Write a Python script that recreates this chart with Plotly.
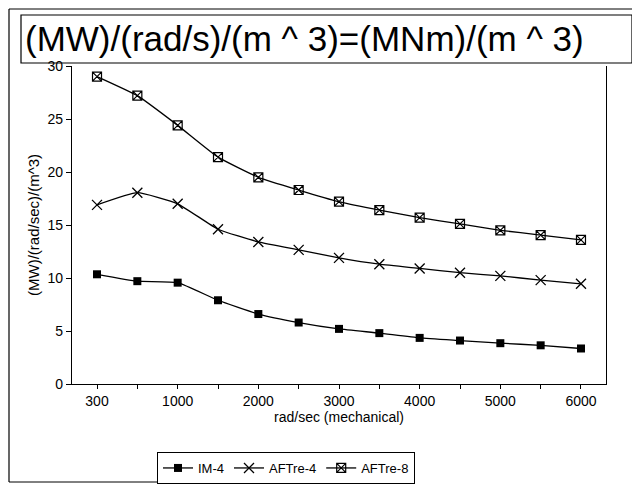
import plotly.graph_objects as go

speeds = [300, 500, 1000, 1500, 2000, 2500, 3000, 3500, 4000, 4500, 5000, 5500, 6000]
tick_labels = ["300", "", "1000", "", "2000", "", "3000", "", "4000", "", "5000", "", "6000"]
im4 = [10.35, 9.7, 9.56, 7.9, 6.6, 5.8, 5.2, 4.8, 4.35, 4.1, 3.85, 3.65, 3.35]
aftre4 = [16.9, 18.05, 17.0, 14.6, 13.4, 12.65, 11.9, 11.3, 10.9, 10.5, 10.2, 9.8, 9.45]
aftre8 = [29.0, 27.2, 24.4, 21.4, 19.5, 18.3, 17.2, 16.4, 15.7, 15.1, 14.5, 14.05, 13.6]

idx = list(range(len(speeds)))

fig = go.Figure()
fig.add_trace(go.Scatter(x=idx, y=im4, name="IM-4", mode="lines+markers",
                         line=dict(color="black", width=1.3, shape="spline", smoothing=0.4),
                         marker=dict(symbol="square", size=8, color="black")))
fig.add_trace(go.Scatter(x=idx, y=aftre4, name="AFTre-4", mode="lines+markers",
                         line=dict(color="black", width=1.3, shape="spline", smoothing=0.4),
                         marker=dict(symbol="x-thin-open", size=10, color="black",
                                     line=dict(color="black", width=1.3))))
fig.add_trace(go.Scatter(x=idx, y=aftre8, name="AFTre-8", mode="lines+markers",
                         line=dict(color="black", width=1.3, shape="spline", smoothing=0.4),
                         marker=dict(symbol="square-x-open", size=9, color="black",
                                     line=dict(color="black", width=1.2))))

font = "Liberation Sans, Arial, sans-serif"

# page has 8px body offset; plot area in page coords: x 72..606, y 66..384
OFF = 8
L, R, T, B = 72, 606, 66, 384
W, H = float(R - L), float(B - T)
def px(x):
    return (x - L) / W
def py(y):
    return (B - y) / H

fig.update_layout(
    width=640, height=498,
    margin=dict(l=L - OFF, r=640 - (R - OFF), t=T - OFF, b=498 - (B - OFF), autoexpand=False),
    paper_bgcolor="white", plot_bgcolor="white",
    font=dict(family=font, size=14, color="black"),
    showlegend=True,
    legend=dict(orientation="h", x=px(157), xanchor="left", y=py(452), yanchor="top",
                bordercolor="black", borderwidth=1, font=dict(size=13),
                tracegroupgap=0, itemwidth=30),
    annotations=[dict(text="(MW)/(rad/s)/(m ^ 3)=(MNm)/(m ^ 3)", xref="paper", yref="paper",
                      x=px(23), xanchor="left", y=py(38), yanchor="middle", showarrow=False,
                      font=dict(family=font, size=35, color="black"))],
    shapes=[
        dict(type="rect", xref="paper", yref="paper", x0=px(21), x1=px(632), y0=py(63), y1=py(15),
             line=dict(color="black", width=1.2)),
        dict(type="line", xref="paper", yref="paper", x0=px(9), x1=px(9), y0=py(482), y1=py(9),
             line=dict(color="black", width=1.2)),
        dict(type="line", xref="paper", yref="paper", x0=px(9), x1=px(636), y0=py(9), y1=py(9),
             line=dict(color="black", width=1)),
        dict(type="line", xref="paper", yref="paper", x0=px(9), x1=px(390), y0=py(482), y1=py(482),
             line=dict(color="black", width=1)),
    ],
)

fig.update_xaxes(
    range=[-0.62, 12.62], tickmode="array", tickvals=idx, ticktext=tick_labels,
    ticks="outside", ticklen=4, tickcolor="black", showline=True, linecolor="black", linewidth=1.2,
    showgrid=False, zeroline=False, mirror=False,
    title=dict(text="rad/sec (mechanical)", standoff=4, font=dict(size=14)),
)
fig.update_yaxes(
    range=[0, 30], tickvals=[0, 5, 10, 15, 20, 25, 30],
    ticks="outside", ticklen=5, tickcolor="black", showline=True, linecolor="black", linewidth=1.2,
    showgrid=False, zeroline=False, mirror=True,
    title=dict(text="(MW)/(rad/sec)/(m^3)", standoff=4, font=dict(size=15)),
)

fig.write_html("out.html")
